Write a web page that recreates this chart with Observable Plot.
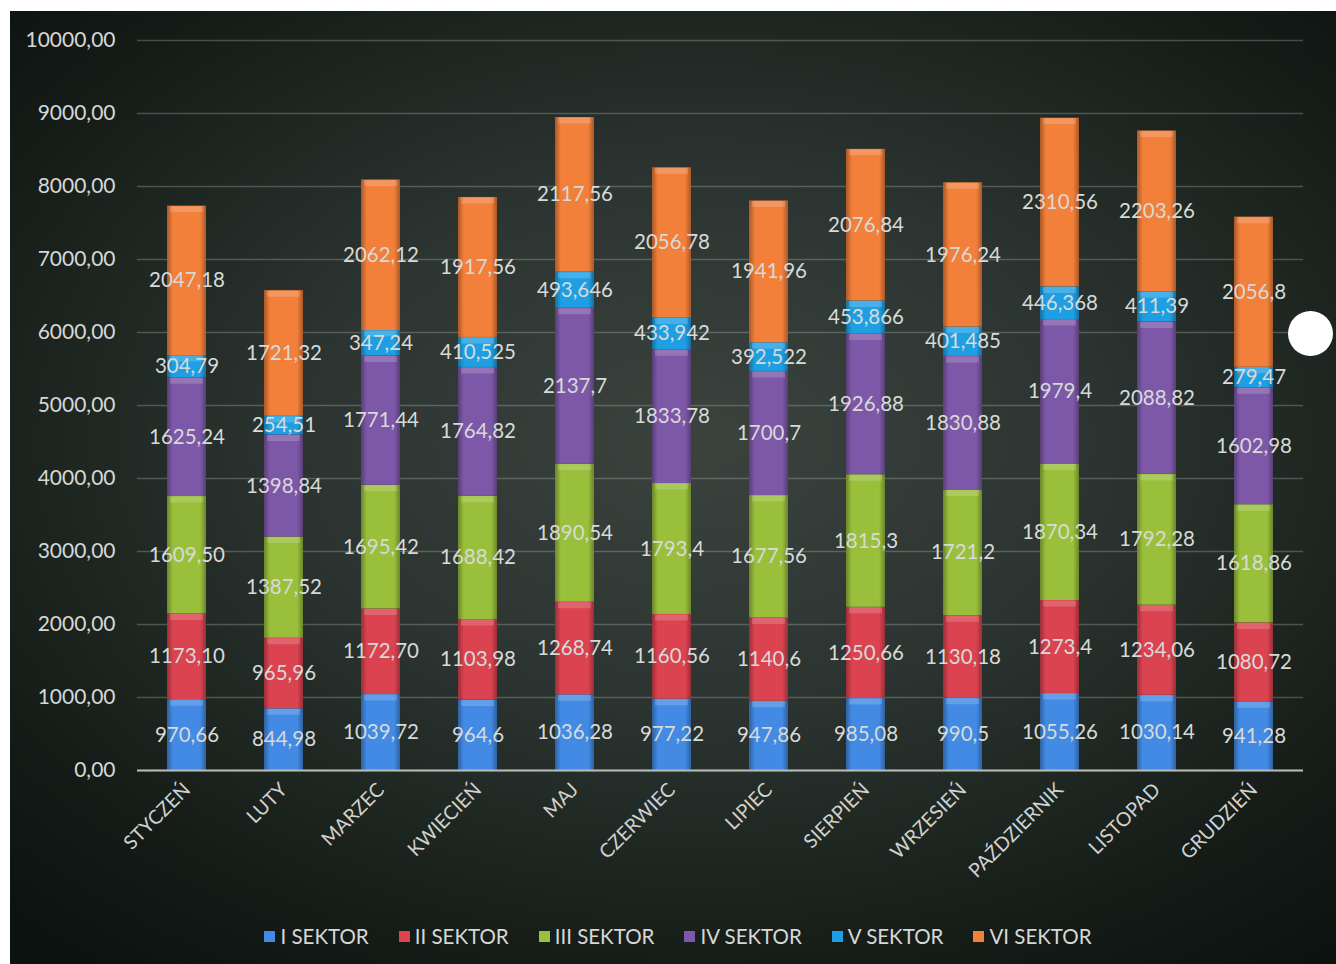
<!DOCTYPE html>
<html>
<head>
<meta charset="utf-8">
<script src="https://cdn.jsdelivr.net/npm/d3@7"></script>
<script src="https://cdn.jsdelivr.net/npm/@observablehq/plot@0.6"></script>
<style>
  html, body { margin: 0; padding: 0; background: #ffffff; }
  body { width: 1336px; height: 964px; position: relative; overflow: hidden; }
  #frame {
    position: absolute; left: 10px; top: 11px; width: 1326px; height: 953px;
    background: radial-gradient(ellipse 75% 70% at 52% 45%, #3a433e 0%, #2b3430 40%, #151c18 80%, #0c120f 100%);
    font-family: Lato, "Open Sans", sans-serif;
  }
  #legend {
    position: absolute; left: 0; width: 100%; top: 913px;
    display: flex; justify-content: center; gap: 30px;
    color: #d6d8d6; font-size: 20.5px; font-family: Lato, sans-serif;
    padding-left: 10px; box-sizing: border-box;
  }
  #legend span.item { display: flex; align-items: center; gap: 5px; }
  #legend span.sw { width: 11px; height: 11px; display: inline-block; }
  #dot { position: absolute; left: 1288px; top: 311px; width: 45px; height: 45px; border-radius: 50%; background: #ffffff; }
</style>
</head>
<body>
<div id="frame">
  <div id="chart"></div>
  <div id="legend"></div>
</div>
<div id="dot"></div>
<script>
const months = ["STYCZEŃ","LUTY","MARZEC","KWIECIEŃ","MAJ","CZERWIEC","LIPIEC","SIERPIEŃ","WRZESIEŃ","PAŹDZIERNIK","LISTOPAD","GRUDZIEŃ"];
const sectors = ["I SEKTOR","II SEKTOR","III SEKTOR","IV SEKTOR","V SEKTOR","VI SEKTOR"];
const colors = ["#428ae4","#da434f","#99bf3b","#7d58a8","#1f9fe3","#f27f3a"];

const sektor1 = ["970,66","844,98","1039,72","964,6","1036,28","977,22","947,86","985,08","990,5","1055,26","1030,14","941,28"];
const sektor2 = ["1173,10","965,96","1172,70","1103,98","1268,74","1160,56","1140,6","1250,66","1130,18","1273,4","1234,06","1080,72"];
const sektor3 = ["1609,50","1387,52","1695,42","1688,42","1890,54","1793,4","1677,56","1815,3","1721,2","1870,34","1792,28","1618,86"];
const sektor4 = ["1625,24","1398,84","1771,44","1764,82","2137,7","1833,78","1700,7","1926,88","1830,88","1979,4","2088,82","1602,98"];
const sektor5 = ["304,79","254,51","347,24","410,525","493,646","433,942","392,522","453,866","401,485","446,368","411,39","279,47"];
const sektor6 = ["2047,18","1721,32","2062,12","1917,56","2117,56","2056,78","1941,96","2076,84","1976,24","2310,56","2203,26","2056,8"];
const yTicks = [0,1000,2000,3000,4000,5000,6000,7000,8000,9000,10000];

const series = [sektor1, sektor2, sektor3, sektor4, sektor5, sektor6];
const data = months.flatMap((m, i) => sectors.map((s, j) => ({
  month: m, sector: s, label: series[j][i], value: +series[j][i].replace(",", ".")
})));

const defs = () => {
  const g = d3.create("svg:defs");
  const h = g.append("linearGradient").attr("id", "bevelH").attr("x1", 0).attr("x2", 1).attr("y1", 0).attr("y2", 0);
  h.append("stop").attr("offset", "0%").attr("stop-color", "#000").attr("stop-opacity", 0.3);
  h.append("stop").attr("offset", "15%").attr("stop-color", "#000").attr("stop-opacity", 0.0);
  h.append("stop").attr("offset", "85%").attr("stop-color", "#000").attr("stop-opacity", 0.0);
  h.append("stop").attr("offset", "100%").attr("stop-color", "#000").attr("stop-opacity", 0.3);
  return g.node();
};

const chart = Plot.plot({
  width: 1326,
  height: 879,
  marginLeft: 127,
  marginRight: 33,
  marginTop: 29,
  marginBottom: 120,
  style: { background: "transparent", color: "#d6d8d6", fontFamily: "Lato, sans-serif", fontSize: "19px", overflow: "visible" },
  x: { domain: months, paddingInner: 0.6, paddingOuter: 0.3, label: null },
  y: { domain: [0, 10000], label: null },
  color: { domain: sectors, range: colors },
  marks: [
    defs,
    Plot.gridY(yTicks, { stroke: "#c8d0cc", strokeOpacity: 0.28, strokeWidth: 1.5 }),
    Plot.barY(data, { x: "month", y: "value", fill: "sector" }),
    Plot.barY(data, { x: "month", y: "value", z: "sector", fill: "url(#bevelH)" }),
    Plot.tickY(data, Plot.stackY2({ x: "month", y: "value", z: "sector", stroke: "#ffffff", strokeOpacity: 0.18, strokeWidth: 6, dy: 3, inset: 3 })),
    Plot.ruleY([0], { stroke: "#b8bcb9", strokeWidth: 2 }),
    Plot.text(data, Plot.stackY({ x: "month", y: "value", z: "sector", text: "label", fill: "#d8dad8", fontSize: 20.5 })),
    Plot.axisY(yTicks, { tickSize: 0, tickPadding: 22, fontSize: 21, fill: "#d6d8d6", tickFormat: d => d.toFixed(2).replace(".", ",") }),
    Plot.axisX({ tickRotate: -45, tickSize: 0, tickPadding: 16, fontSize: 19.5, fill: "#cfd2cf" })
  ]
});
document.getElementById("chart").appendChild(chart);

const legend = d3.select("#legend");
sectors.forEach((s, i) => {
  const it = legend.append("span").attr("class", "item");
  it.append("span").attr("class", "sw").style("background", colors[i]);
  it.append("span").text(s);
});
</script>
</body>
</html>
